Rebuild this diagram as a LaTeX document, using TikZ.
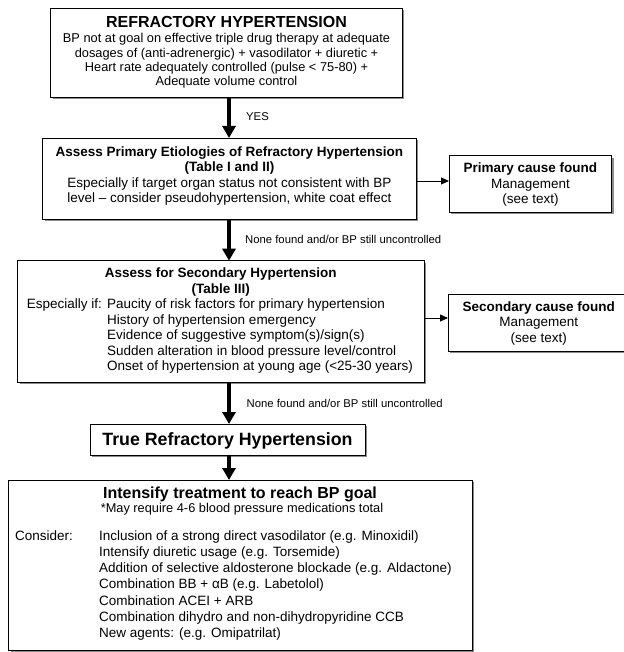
\documentclass[tikz,border=0pt]{standalone}
\usepackage{fontspec}
\setmainfont{Liberation Sans}
\usetikzlibrary{arrows.meta,shadows}
\newcommand\myfs[1]{\fontsize{#1}{#1}\selectfont}
\tikzset{
  box/.style={draw=black, line width=0.9pt, fill=white, inner sep=0pt, outer sep=0pt,
    drop shadow={shadow xshift=2.2pt, shadow yshift=-2.2pt, fill=black!45, opacity=1}},
  txt/.style={inner sep=0pt, anchor=base, font=\myfs{13.5}},
  ltxt/.style={inner sep=0pt, anchor=base west, font=\myfs{13.5}},
  lbl/.style={inner sep=0pt, anchor=base west, font=\myfs{11.3}},
  bigarrow/.style={line width=4pt, -{Triangle[width=13pt,length=12pt]}},
  thinarrow/.style={line width=0.8pt, -{Triangle[width=7pt,length=8pt]}}
}
\begin{document}
\begin{tikzpicture}[x=1pt,y=-1pt]
\useasboundingbox (0,0) rectangle (623,652);
% boxes
\node[box, minimum width=351.3pt, minimum height=88.7pt] (b1) at (226.35,52.65) {};
\node[box, minimum width=373.3pt, minimum height=81pt] (b2) at (229.35,178.5) {};
\node[box, minimum width=162.7pt, minimum height=56.3pt] (pc) at (530.35,183.85) {};
\node[box, minimum width=406.7pt, minimum height=121.3pt] (b3) at (220.65,321.35) {};
\node[box, minimum width=182pt, minimum height=56.5pt] (sc) at (539,322.75) {};
\node[box, minimum width=275pt, minimum height=31pt] (tr) at (227.5,439.5) {};
\node[box, minimum width=463.7pt, minimum height=170pt] (b5) at (240.15,565) {};
% box 1 text
\node[txt, font=\myfs{16}\bfseries] (t1a) at (226.5,27.8) {REFRACTORY HYPERTENSION};
\node[txt, font=\myfs{12.8}] (t1b) at (226.5,43) {BP not at goal on effective triple drug therapy at adequate};
\node[txt, font=\myfs{12.8}] (t1c) at (226.5,57.3) {dosages of (anti-adrenergic) + vasodilator + diuretic +};
\node[txt, font=\myfs{12.8}] (t1d) at (226.5,71.6) {Heart rate adequately controlled (pulse < 75-80) +};
\node[txt, font=\myfs{12.8}] (t1e) at (226.5,86) {Adequate volume control};
% box 2 text
\node[txt, font=\myfs{13.5}\bfseries] (t2a) at (229.4,156.7) {Assess Primary Etiologies of Refractory Hypertension};
\node[txt, font=\myfs{13.5}\bfseries] (t2b) at (229.4,172) {(Table I and II)};
\node[txt] (t2c) at (229.4,187.3) {Especially if target organ status not consistent with BP};
\node[txt] (t2d) at (229.4,202.3) {level – consider pseudohypertension, white coat effect};
% primary cause text
\node[txt, font=\myfs{13.5}\bfseries] (pa) at (530.4,172.7) {Primary cause found};
\node[txt] (pb) at (530.4,188.2) {Management};
\node[txt] (pcx) at (530.4,203.7) {(see text)};
% box 3 text
\node[txt, font=\myfs{13.5}\bfseries] (t3a) at (220.7,277.5) {Assess for Secondary Hypertension};
\node[txt, font=\myfs{13.5}\bfseries] (t3b) at (220.7,293) {(Table III)};
\node[ltxt] (t3c) at (26.7,308.5) {Especially if:};
\node[ltxt] (t3d) at (107,308.5) {Paucity of risk factors for primary hypertension};
\node[ltxt] (t3e) at (107,324) {History of hypertension emergency};
\node[ltxt] (t3f) at (107,339.5) {Evidence of suggestive symptom(s)/sign(s)};
\node[ltxt] (t3g) at (107,355) {Sudden alteration in blood pressure level/control};
\node[ltxt] (t3h) at (107,370.5) {Onset of hypertension at young age (<25-30 years)};
% secondary cause text
\node[txt, font=\myfs{13.5}\bfseries] (sa) at (538.8,311.3) {Secondary cause found};
\node[txt] (sb) at (538.8,326.8) {Management};
\node[txt] (scx) at (538.8,342.3) {(see text)};
% true refractory
\node[txt, font=\myfs{17.8}\bfseries] (tra) at (227.5,445.5) {True Refractory Hypertension};
% box 5 text
\node[txt, font=\myfs{16}\bfseries] (t5a) at (240,498.5) {Intensify treatment to reach BP goal};
\node[txt, font=\myfs{12.8}] (t5b) at (242,512.5) {*May require 4-6 blood pressure medications total};
\node[ltxt] (t5c) at (15,540) {Consider:};
\node[ltxt] (t5d) at (99,540) {Inclusion of a strong direct vasodilator (e.g. Minoxidil)};
\node[ltxt] (t5e) at (99,556.3) {Intensify diuretic usage (e.g. Torsemide)};
\node[ltxt] (t5f) at (99,572.6) {Addition of selective aldosterone blockade (e.g. Aldactone)};
\node[ltxt] (t5g) at (99,588.9) {Combination BB + αB (e.g. Labetolol)};
\node[ltxt] (t5h) at (99,605.2) {Combination ACEI + ARB};
\node[ltxt] (t5i) at (99,621.5) {Combination dihydro and non-dihydropyridine CCB};
\node[ltxt] (t5j) at (99,637.8) {New agents: (e.g. Omipatrilat)};
% connectors
\coordinate (ax) at (229,0);
\coordinate (y1) at (0,181);
\coordinate (y2) at (0,318);
\draw[bigarrow] (b1.south -| ax) -- (b2.north -| ax);
\draw[bigarrow] (b2.south -| ax) -- (b3.north -| ax);
\draw[bigarrow] (b3.south -| ax) -- (tr.north -| ax);
\draw[bigarrow] (tr.south -| ax) -- (b5.north -| ax);
\draw[thinarrow] (b2.east |- y1) -- (pc.west |- y1);
\draw[thinarrow] (b3.east |- y2) -- (sc.west |- y2);
% labels
\node[lbl] (l1) at (246,121) {YES};
\node[lbl] (l2) at (245,243) {None found and/or BP still uncontrolled};
\node[lbl] (l3) at (246.5,407) {None found and/or BP still uncontrolled};
\end{tikzpicture}
\end{document}
